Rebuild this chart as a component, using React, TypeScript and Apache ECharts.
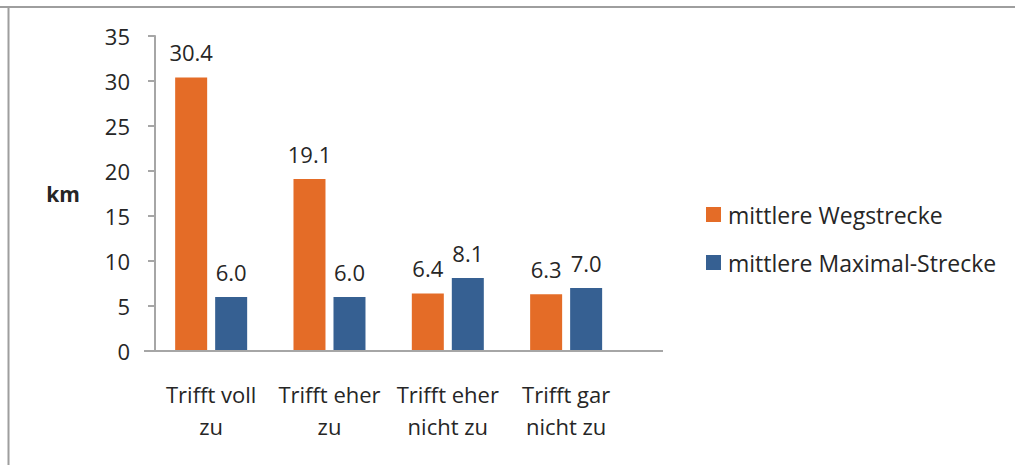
import React, { useEffect, useRef } from "react";
import * as echarts from "echarts";

const categories = ["Trifft voll\nzu", "Trifft eher\nzu", "Trifft eher\nnicht zu", "Trifft gar\nnicht zu"];
const wegstrecke = [30.4, 19.1, 6.4, 6.3];
const maximalStrecke = [6.0, 6.0, 8.1, 7.0];
const seriesNames = ["mittlere Wegstrecke", "mittlere Maximal-Strecke"];
const yTicks = { min: 0, max: 35, interval: 5 };

const FONT = "'Open Sans', 'Noto Sans', sans-serif";
const TEXT = "#262626";
const AXIS = "#A6A6A6";

export default function App() {
  const ref = useRef<HTMLDivElement>(null);
  useEffect(() => {
    if (!ref.current) return;
    const chart = echarts.init(ref.current, null, { renderer: "svg" });
    const label = {
      show: true,
      position: "top",
      distance: 14,
      color: TEXT,
      fontFamily: FONT,
      fontSize: 22,
      lineHeight: 22,
      formatter: (p: any) => Number(p.value).toFixed(1),
    };
    chart.setOption({
      animation: false,
      backgroundColor: "#fff",
      textStyle: { fontFamily: FONT },
      grid: { left: 152, top: 36, bottom: 114, width: 473.3, containLabel: false },
      legend: {
        orient: "vertical",
        left: 701,
        top: 198,
        itemWidth: 15,
        itemHeight: 15,
        itemGap: 25,
        icon: "rect",
        textStyle: { color: TEXT, fontFamily: FONT, fontSize: 23, padding: [0, 0, 0, 2] },
        data: seriesNames,
      },
      xAxis: {
        type: "category",
        data: categories,
        axisLine: { show: false },
        axisTick: { show: false },
        axisLabel: {
          interval: 0,
          margin: 27,
          color: TEXT,
          fontFamily: FONT,
          fontSize: 22,
          lineHeight: 32,
        },
      },
      yAxis: {
        type: "value",
        min: yTicks.min,
        max: yTicks.max,
        interval: yTicks.interval,
        offset: -3,
        name: "km",
        nameLocation: "middle",
        nameRotate: 0,
        nameGap: 92,
        nameTextStyle: {
          align: "center",
          verticalAlign: "middle",
          color: TEXT,
          fontFamily: FONT,
          fontSize: 21,
          fontWeight: "bold",
          padding: [8, 0, 0, 0],
        },
        splitLine: { show: false },
        axisLine: { show: true, lineStyle: { color: AXIS, width: 2 } },
        axisTick: { show: true, inside: false, length: 7, lineStyle: { color: AXIS, width: 2 } },
        axisLabel: { margin: 25, color: TEXT, fontFamily: FONT, fontSize: 22 },
      },
      series: [
        {
          name: seriesNames[0],
          type: "bar",
          data: wegstrecke,
          barWidth: 32,
          barGap: "25%",
          itemStyle: { color: "#E46C27" },
          label,
        },
        {
          name: seriesNames[1],
          type: "bar",
          data: maximalStrecke,
          barWidth: 32,
          itemStyle: { color: "#366092" },
          label,
        },
      ],
      graphic: [
        { type: "line", shape: { x1: 144, y1: 351, x2: 663, y2: 351 }, style: { stroke: AXIS, lineWidth: 2 }, z: 10 },
        { type: "line", shape: { x1: 0, y1: 7, x2: 1015, y2: 7 }, style: { stroke: "#9E9E9E", lineWidth: 2 } },
        { type: "line", shape: { x1: 8.5, y1: 6, x2: 8.5, y2: 465 }, style: { stroke: "#9E9E9E", lineWidth: 2 } },
      ],
    });
    return () => chart.dispose();
  }, []);
  return <div ref={ref} style={{ position: "fixed", left: 0, top: 0, width: 1015, height: 465 }} />;
}
